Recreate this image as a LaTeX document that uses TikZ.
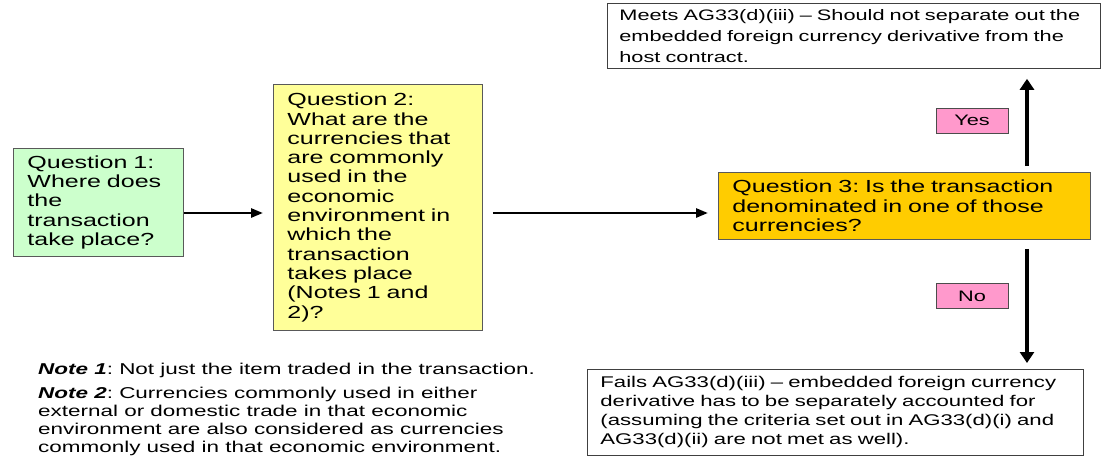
\documentclass[tikz,border=0pt]{standalone}
\usepackage{fontspec}
\setmainfont{Liberation Sans}[FakeStretch=1.43]
\usetikzlibrary{arrows.meta}

\definecolor{qgreen}{HTML}{CCFFCC}
\definecolor{qyellow}{HTML}{FFFF99}
\definecolor{qorange}{HTML}{FFCC00}
\definecolor{lblpink}{HTML}{FF99CC}
\newcommand{\qtextfont}{\fontsize{17.5}{19.3}\selectfont\frenchspacing}
\newcommand{\ntextfont}{\fontsize{15.2}{19}\selectfont\frenchspacing}
\frenchspacing

\begin{document}
\begin{tikzpicture}[x=1pt, y=-1pt,
  qbox/.style={draw=black!65, line width=0.8pt, anchor=north west, align=left, inner xsep=14pt, inner ysep=0pt, font=\qtextfont},
  rbox/.style={draw=black!75, line width=0.8pt, anchor=north west, align=left, inner xsep=13pt, inner ysep=0pt, font=\ntextfont},
  note/.style={anchor=north west, align=left, inner sep=0pt, font=\fontsize{15.7}{18}\selectfont\frenchspacing},
  answer/.style={draw=black!70, line width=0.8pt, fill=lblpink, minimum width=72pt, minimum height=25pt, inner sep=0pt, font=\ntextfont},
  arr/.style={line width=2.6pt, -{Triangle[length=12pt, width=9pt]}},
  varr/.style={line width=4pt, -{Triangle[length=11pt, width=14pt]}}]
  \useasboundingbox (0,0) rectangle (1109,456);

  % the three questions
  \node[qbox, fill=qgreen, text width=142pt, minimum height=108pt] (q1) at (13,148)
    {Question 1:\\Where does\\the\\transaction\\take place?};
  \node[qbox, fill=qyellow, text width=181pt, minimum height=246pt] (q2) at (273,84)
    {Question 2:\\What are the\\currencies that\\are commonly\\used in the\\economic\\environment in\\which the\\transaction\\takes place\\(Notes 1 and\\2)?};
  \node[qbox, fill=qorange, text width=344pt, minimum height=67pt] (q3) at (718,172)
    {Question 3: Is the transaction\\denominated in one of those\\currencies?};

  % results
  \node[rbox, inner xsep=12pt, text width=469pt, minimum height=65pt,
    font=\fontsize{15.2}{20.8}\selectfont\frenchspacing] (meets) at (607,3)
    {Meets AG33(d)(iii) -- Should not separate out the\\embedded foreign currency derivative from the\\host contract.};
  \node[rbox, text width=470pt, minimum height=86pt,
    font=\fontsize{15.5}{19}\selectfont\frenchspacing] (fails) at (587,369)
    {Fails AG33(d)(iii) -- embedded foreign currency\\derivative has to be separately accounted for\\(assuming the criteria set out in AG33(d)(i) and\\AG33(d)(ii) are not met as well).};

  \node[answer] (yes) at (972,120.5) {Yes};
  \node[answer] (no) at (972,296) {No};

  % notes
  \node[note] (note1) at (38,363) {\textbf{\textit{Note 1}}: Not just the item traded in the transaction.};
  \node[note] (note2) at (38,387) {\textbf{\textit{Note 2}}: Currencies commonly used in either\\external or domestic trade in that economic\\environment are also considered as currencies\\commonly used in that economic environment.};

  \coordinate (mid) at (0,213);
  \coordinate (vx) at (1027,0);
  \draw[arr, shorten >=10pt] (q1.east |- mid) -- (q2.west |- mid);
  \draw[arr, shorten <=10pt, shorten >=10pt] (q2.east |- mid) -- (q3.west |- mid);
  \draw[varr, shorten <=6pt, shorten >=10pt] (q3.north -| vx) -- (meets.south -| vx);
  \draw[varr, shorten <=9pt, shorten >=6pt] (q3.south -| vx) -- (fails.north -| vx);
\end{tikzpicture}
\end{document}
